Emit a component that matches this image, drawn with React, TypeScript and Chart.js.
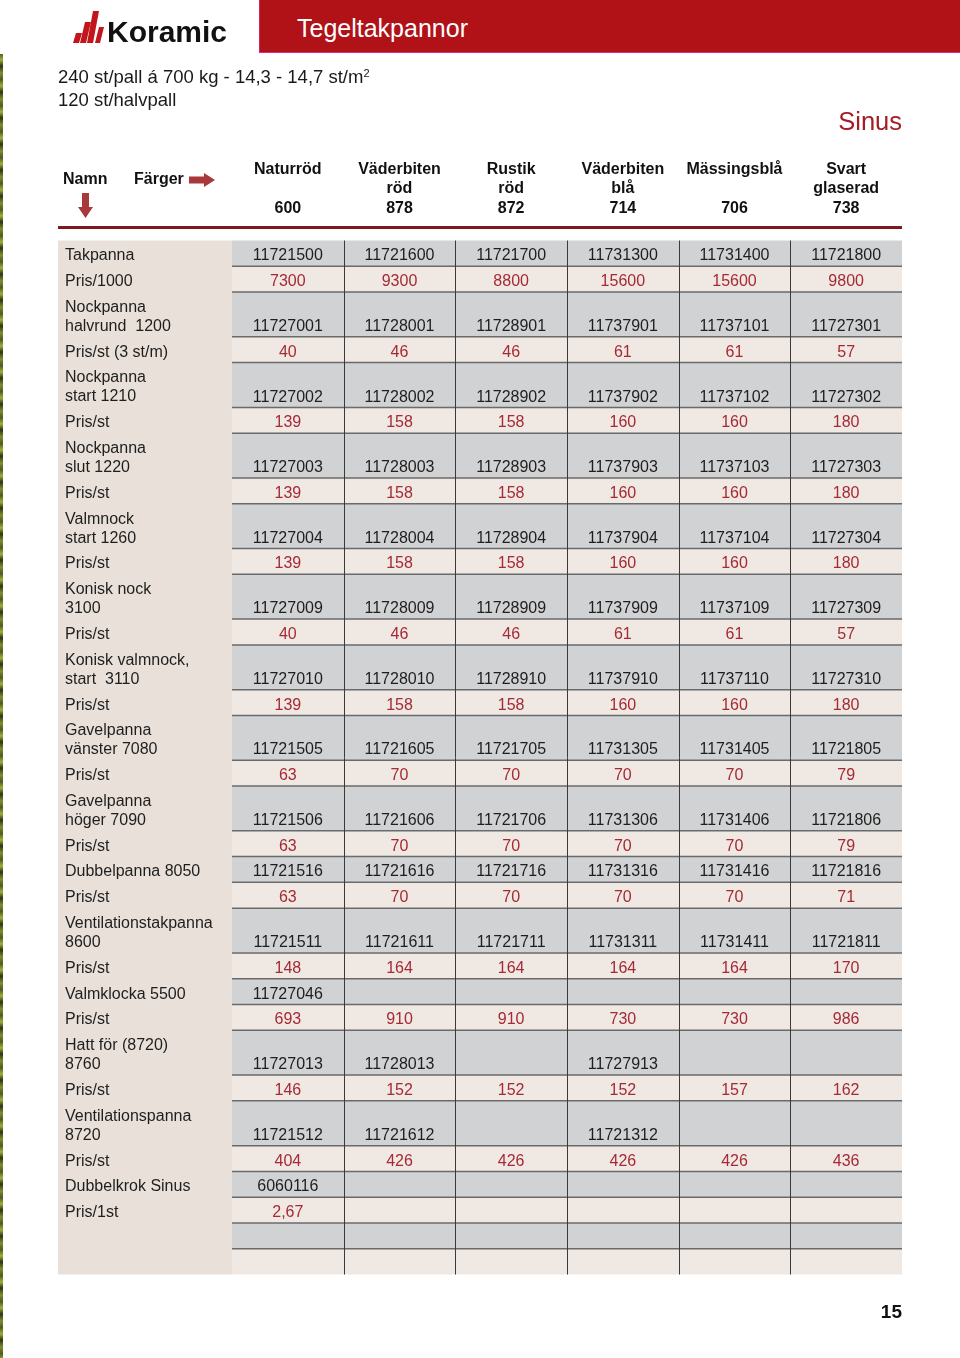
import React, { useEffect, useRef } from 'react';
import { Chart, registerables } from 'chart.js';

Chart.register(...registerables);

const FONT = '"Liberation Sans", Arial, Helvetica, sans-serif';

// Column headers (colour name lines + colour code)
const colourHeaders: string[][] = [
  ['Naturröd', '', '600'],
  ['Väderbiten', 'röd', '878'],
  ['Rustik', 'röd', '872'],
  ['Väderbiten', 'blå', '714'],
  ['Mässingsblå', '', '706'],
  ['Svart', 'glaserad', '738'],
];

// Product rows (name lines)
const productNames: string[][] = [
  ['Takpanna'],
  ['Nockpanna', 'halvrund  1200'],
  ['Nockpanna', 'start 1210'],
  ['Nockpanna', 'slut 1220'],
  ['Valmnock', 'start 1260'],
  ['Konisk nock', '3100'],
  ['Konisk valmnock,', 'start  3110'],
  ['Gavelpanna', 'vänster 7080'],
  ['Gavelpanna', 'höger 7090'],
  ['Dubbelpanna 8050'],
  ['Ventilationstakpanna', '8600'],
  ['Valmklocka 5500'],
  ['Hatt för (8720)', '8760'],
  ['Ventilationspanna', '8720'],
  ['Dubbelkrok Sinus'],
  [''],
];

// Article numbers per product and colour
const articleNumbers: string[][] = [
  ['11721500', '11721600', '11721700', '11731300', '11731400', '11721800'],
  ['11727001', '11728001', '11728901', '11737901', '11737101', '11727301'],
  ['11727002', '11728002', '11728902', '11737902', '11737102', '11727302'],
  ['11727003', '11728003', '11728903', '11737903', '11737103', '11727303'],
  ['11727004', '11728004', '11728904', '11737904', '11737104', '11727304'],
  ['11727009', '11728009', '11728909', '11737909', '11737109', '11727309'],
  ['11727010', '11728010', '11728910', '11737910', '11737110', '11727310'],
  ['11721505', '11721605', '11721705', '11731305', '11731405', '11721805'],
  ['11721506', '11721606', '11721706', '11731306', '11731406', '11721806'],
  ['11721516', '11721616', '11721716', '11731316', '11731416', '11721816'],
  ['11721511', '11721611', '11721711', '11731311', '11731411', '11721811'],
  ['11727046', '', '', '', '', ''],
  ['11727013', '11728013', '', '11727913', '', ''],
  ['11721512', '11721612', '', '11721312', '', ''],
  ['6060116', '', '', '', '', ''],
  ['', '', '', '', '', ''],
];

// Price row labels
const priceNames: string[] = [
  'Pris/1000', 'Pris/st (3 st/m)', 'Pris/st', 'Pris/st', 'Pris/st', 'Pris/st', 'Pris/st',
  'Pris/st', 'Pris/st', 'Pris/st', 'Pris/st', 'Pris/st', 'Pris/st', 'Pris/st', 'Pris/1st', '',
];

// Prices per product and colour
const prices: (number | null)[][] = [
  [7300, 9300, 8800, 15600, 15600, 9800],
  [40, 46, 46, 61, 61, 57],
  [139, 158, 158, 160, 160, 180],
  [139, 158, 158, 160, 160, 180],
  [139, 158, 158, 160, 160, 180],
  [40, 46, 46, 61, 61, 57],
  [139, 158, 158, 160, 160, 180],
  [63, 70, 70, 70, 70, 79],
  [63, 70, 70, 70, 70, 79],
  [63, 70, 70, 70, 70, 71],
  [148, 164, 164, 164, 164, 170],
  [693, 910, 910, 730, 730, 986],
  [146, 152, 152, 152, 157, 162],
  [404, 426, 426, 426, 426, 436],
  [2.67, null, null, null, null, null],
  [null, null, null, null, null, null],
];

const DOUBLE = 1.738;
const TEXT_SHIFT = 0.1; // optical offset of text inside a row (in row units)

type Row = { lines: string[]; values: string[]; kind: 'article' | 'price'; top: number; bottom: number };

function buildRows(): Row[] {
  const rows: Row[] = [];
  let y = 0;
  productNames.forEach((lines, i) => {
    const h = lines.length > 1 ? DOUBLE : 1;
    rows.push({ lines, values: articleNumbers[i], kind: 'article', top: y, bottom: y + h });
    y += h;
    rows.push({
      lines: [priceNames[i]],
      values: prices[i].map((p) => (p === null ? '' : String(p).replace('.', ','))),
      kind: 'price',
      top: y,
      bottom: y + 1,
    });
    y += 1;
  });
  return rows;
}

const rows = buildRows();
const TOTAL = rows[rows.length - 1].bottom;

const TABLE_TOP = 240.5;
const TABLE_BOTTOM = 1274.5;
const HEADER_H = 90;
const LABEL_LEFT = 58;

const tablePlugin = {
  id: 'priceTable',
  beforeDraw(chart: any) {
    const { ctx, chartArea } = chart;
    const xs = chart.scales.x;
    const ys = chart.scales.y;
    const top = chartArea.top;
    const bottom = chartArea.bottom;
    ctx.save();
    ctx.fillStyle = '#e8e0d9';
    ctx.fillRect(LABEL_LEFT, top, chartArea.left - LABEL_LEFT, bottom - top);
    const x0 = xs.getPixelForValue(0);
    const x1 = xs.getPixelForValue(colourHeaders.length);
    rows.forEach((r) => {
      const yt = ys.getPixelForValue(r.top);
      const yb = ys.getPixelForValue(r.bottom);
      ctx.fillStyle = r.kind === 'article' ? '#d1d2d4' : '#f0e8e3';
      ctx.fillRect(x0, yt, x1 - x0, yb - yt);
    });
    ctx.strokeStyle = '#6a6a6a';
    ctx.lineWidth = 1.5;
    rows.forEach((r, i) => {
      if (i === 0) return;
      const y = ys.getPixelForValue(r.top);
      ctx.beginPath();
      ctx.moveTo(x0, y);
      ctx.lineTo(x1, y);
      ctx.stroke();
    });
    ctx.strokeStyle = '#3a3a3a';
    ctx.lineWidth = 1;
    for (let c = 1; c < colourHeaders.length; c++) {
      const x = Math.round(xs.getPixelForValue(c)) + 0.5;
      ctx.beginPath();
      ctx.moveTo(x, top);
      ctx.lineTo(x, bottom);
      ctx.stroke();
    }
    ctx.restore();
  },
  afterDatasetsDraw(chart: any) {
    const { ctx } = chart;
    ctx.save();
    ctx.font = `16px ${FONT}`;
    ctx.textAlign = 'center';
    ctx.textBaseline = 'middle';
    chart.data.datasets.forEach((ds: any, d: number) => {
      const meta = chart.getDatasetMeta(d);
      ctx.fillStyle = ds.textColor;
      meta.data.forEach((el: any, j: number) => {
        const t = ds.data[j].t;
        if (t) ctx.fillText(t, el.x, el.y);
      });
    });
    ctx.restore();
  },
};

function cellPoints(kind: 'article' | 'price') {
  const pts: any[] = [];
  rows.forEach((r) => {
    if (r.kind !== kind) return;
    r.values.forEach((v, c) => {
      pts.push({ x: c + 0.5, y: r.bottom - 0.5 + TEXT_SHIFT, t: v });
    });
  });
  return pts;
}

function Txt(props: { x: number; y: number; size: number; weight?: any; color?: string; right?: boolean; children: any }) {
  const lh = Math.round(props.size * 1.3);
  const style: any = {
    position: 'absolute',
    top: props.y - lh / 2,
    fontSize: props.size,
    lineHeight: `${lh}px`,
    fontWeight: props.weight || 'normal',
    color: props.color || '#1a1a1a',
    whiteSpace: 'nowrap',
  };
  if (props.right) style.right = 960 - props.x;
  else style.left = props.x;
  return <div style={style}>{props.children}</div>;
}

export default function App() {
  const ref = useRef<HTMLCanvasElement>(null);

  useEffect(() => {
    const canvas = ref.current!;
    const chart = new Chart(canvas, {
      type: 'scatter',
      data: {
        datasets: [
          { label: 'Artikelnummer', data: cellPoints('article'), pointRadius: 0, textColor: '#1e1e1e' } as any,
          { label: 'Pris', data: cellPoints('price'), pointRadius: 0, textColor: '#a52a35' } as any,
        ],
      },
      options: {
        animation: false,
        responsive: false,
        devicePixelRatio: 1,
        events: [],
        layout: {
          padding: {
            left: 65,
            right: 960 - 902,
            top: TABLE_TOP - HEADER_H,
            bottom: 1358 - TABLE_BOTTOM,
          },
        },
        plugins: { legend: { display: false }, tooltip: { enabled: false } },
        scales: {
          x: {
            type: 'linear',
            position: 'top',
            min: 0,
            max: colourHeaders.length,
            afterBuildTicks: (s: any) => {
              s.ticks = colourHeaders.map((_, i) => ({ value: i + 0.5 }));
            },
            afterFit: (s: any) => {
              s.height = HEADER_H;
            },
            grid: { display: false, drawTicks: false },
            border: { display: false },
            ticks: {
              autoSkip: false,
              maxRotation: 0,
              minRotation: 0,
              padding: 22.5,
              color: '#111',
              font: { family: FONT, size: 16, weight: 'bold', lineHeight: 19.5 / 16 },
              callback: (_v: any, i: number) => colourHeaders[i],
            },
          },
          y: {
            type: 'linear',
            reverse: true,
            min: 0,
            max: TOTAL,
            afterBuildTicks: (s: any) => {
              s.ticks = rows.map((r) => ({ value: (r.top + r.bottom) / 2 + TEXT_SHIFT }));
            },
            afterFit: (s: any) => {
              s.width = 232 - 65;
            },
            grid: { display: false, drawTicks: false },
            border: { display: false },
            ticks: {
              autoSkip: false,
              crossAlign: 'far',
              padding: 0,
              color: '#1e1e1e',
              font: { family: FONT, size: 16, lineHeight: 19 / 16 },
              callback: (_v: any, i: number) => rows[i].lines,
            },
          },
        },
      } as any,
      plugins: [tablePlugin],
    });
    return () => chart.destroy();
  }, []);

  return (
    <div
      style={{
        position: 'absolute',
        left: 0,
        top: 0,
        width: 960,
        height: 1358,
        background: '#fff',
        overflow: 'hidden',
        fontFamily: FONT,
      }}
    >
      <canvas
        ref={ref}
        width={960}
        height={1358}
        style={{ position: 'absolute', left: 0, top: 0, width: 960, height: 1358 }}
      />
      {/* left photo edge */}
      <div
        style={{
          position: 'absolute',
          left: 0,
          top: 54,
          width: 3,
          height: 1304,
          background:
            'repeating-linear-gradient(180deg, #55621c 0px, #a3ad3c 6px, #2c3612 12px, #7f8e2e 19px, #4a5a20 26px)',
        }}
      />
      {/* red header bar */}
      <div
        style={{
          position: 'absolute',
          left: 259,
          top: 0,
          width: 701,
          height: 52,
          background: '#b01218',
          borderBottom: '1.5px solid #e3258e',
          borderLeft: '1px solid #d0206a',
        }}
      />
      <Txt x={297} y={28} size={25} color="#ffffff">
        Tegeltakpannor
      </Txt>
      {/* logo */}
      <svg style={{ position: 'absolute', left: 0, top: 0 }} width={110} height={50}>
        <polygon points="73,43 79,43 82,33 76,33" fill="#c0161c" />
        <polygon points="80,43 86,43 91,22 85,22" fill="#c0161c" />
        <polygon points="87,43 93,43 99,11 93,11" fill="#c0161c" />
        <polygon points="95,43 100,43 104,27 99,27" fill="#c0161c" />
      </svg>
      <Txt x={107} y={31} size={30} weight="bold" color="#111">
        Koramic
      </Txt>
      {/* subtitle */}
      <Txt x={58} y={77} size={18.5} color="#1a1a1a">
        240 st/pall á 700 kg - 14,3 - 14,7 st/m
        <sup style={{ fontSize: 11, verticalAlign: 'top', position: 'relative', top: -4 }}>2</sup>
      </Txt>
      <Txt x={58} y={100} size={18.5} color="#1a1a1a">
        120 st/halvpall
      </Txt>
      <Txt x={902} y={121} size={25.5} color="#a51c24" right>
        Sinus
      </Txt>
      {/* row/column guide */}
      <Txt x={63} y={178} size={16} weight="bold" color="#111">
        Namn
      </Txt>
      <Txt x={134} y={178} size={16} weight="bold" color="#111">
        Färger
      </Txt>
      <svg style={{ position: 'absolute', left: 0, top: 0 }} width={230} height={230}>
        <polygon points="189,176.5 204,176.5 204,173 215,180 204,187 204,183.5 189,183.5" fill="#a8383a" />
        <polygon points="82,193 89,193 89,207 93,207 85.5,218 78,207 82,207" fill="#a8383a" />
      </svg>
      {/* red rule under header */}
      <div style={{ position: 'absolute', left: 58, top: 226, width: 844, height: 3, background: '#7d1a1f' }} />
      {/* page number */}
      <Txt x={902} y={1311} size={19} weight="bold" color="#111" right>
        15
      </Txt>
    </div>
  );
}
